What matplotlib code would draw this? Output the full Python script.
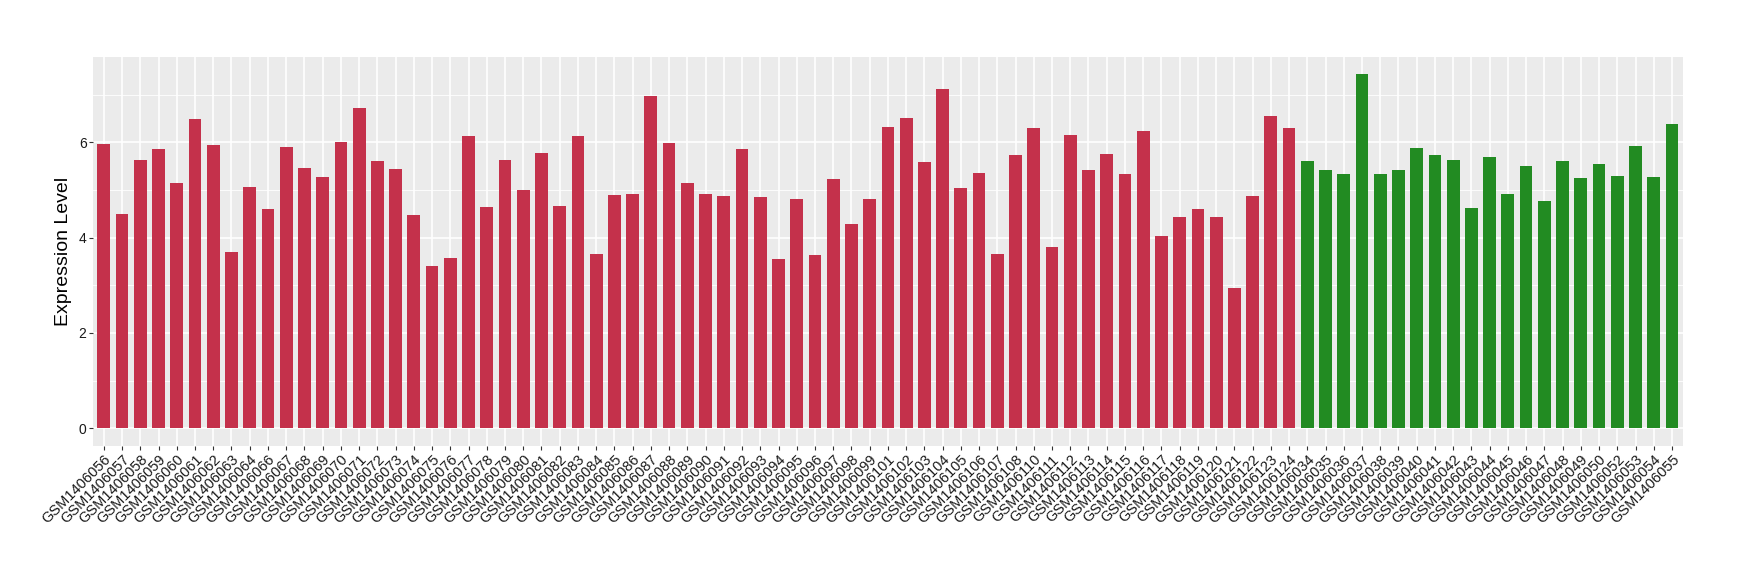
import matplotlib
matplotlib.use('Agg')
import matplotlib.pyplot as plt
import numpy as np

# sample ids (red group first, then green group)
red_ids = ['056', '057', '058', '059', '060', '061', '062', '063', '064', '066',
           '067', '068', '069', '070', '071', '072', '073', '074', '075', '076',
           '077', '078', '079', '080', '081', '082', '083', '084', '085', '086',
           '087', '088', '089', '090', '091', '092', '093', '094', '095', '096',
           '097', '098', '099', '101', '102', '103', '104', '105', '106', '107',
           '108', '110', '111', '112', '113', '114', '115', '116', '117', '118',
           '119', '120', '121', '122', '123', '124']
green_ids = ['034', '035', '036', '037', '038', '039', '040', '041', '042', '043',
             '044', '045', '046', '047', '048', '049', '050', '052', '053', '054',
             '055']

# expression values
red_vals = [5.96, 4.49, 5.62, 5.85, 5.14, 6.48, 5.94, 3.70, 5.06, 4.60,
            5.90, 5.46, 5.27, 6.00, 6.71, 5.60, 5.43, 4.47, 3.40, 3.57,
            6.13, 4.64, 5.62, 5.00, 5.77, 4.66, 6.13, 3.66, 4.89, 4.91,
            6.96, 5.98, 5.14, 4.91, 4.87, 5.85, 4.85, 3.55, 4.81, 3.63,
            5.23, 4.28, 4.81, 6.31, 6.50, 5.58, 7.11, 5.04, 5.35, 3.66,
            5.73, 6.29, 3.80, 6.15, 5.41, 5.75, 5.33, 6.23, 4.03, 4.43,
            4.60, 4.43, 2.94, 4.87, 6.54, 6.29]
green_vals = [5.60, 5.41, 5.33, 7.42, 5.33, 5.41, 5.87, 5.73, 5.62, 4.62,
              5.69, 4.91, 5.50, 4.77, 5.60, 5.25, 5.54, 5.29, 5.92, 5.27,
              6.38]

labels = ['GSM1406' + s for s in red_ids + green_ids]
values = red_vals + green_vals
colors = ['#C4314B'] * len(red_vals) + ['#228B22'] * len(green_vals)

plt.rcParams['font.family'] = ['Liberation Sans', 'DejaVu Sans']

fig = plt.figure(figsize=(17.4, 5.8), dpi=100)
ax = fig.add_axes([0.0534, 0.231, 0.9138, 0.671])

x = np.arange(len(values))
ax.set_facecolor('#EBEBEB')
ax.set_axisbelow(True)
ax.bar(x, values, width=0.7, color=colors, zorder=2)

ax.set_xlim(-0.6, len(values) - 0.4)
ax.set_ylim(-0.37, 7.79)
ax.set_yticks([0, 2, 4, 6])
ax.set_yticks([1, 3, 5, 7], minor=True)
ax.set_xticks(x)
ax.set_xticklabels(labels, rotation=45, ha='right', va='top',
                   rotation_mode='anchor', fontsize=10.5, color='#1a1a1a')
ax.tick_params(axis='y', labelsize=10, labelcolor='#1a1a1a')
ax.tick_params(which='major', length=2.8, width=0.8, color='#333333', pad=1.8)
ax.tick_params(which='minor', length=0)

ax.grid(which='major', color='white', linewidth=1.2)
ax.grid(which='minor', axis='y', color='white', linewidth=0.6)
for sp in ax.spines.values():
    sp.set_visible(False)

ax.set_ylabel('Expression Level', fontsize=14, labelpad=5)

fig.savefig('out.png', dpi=100)
